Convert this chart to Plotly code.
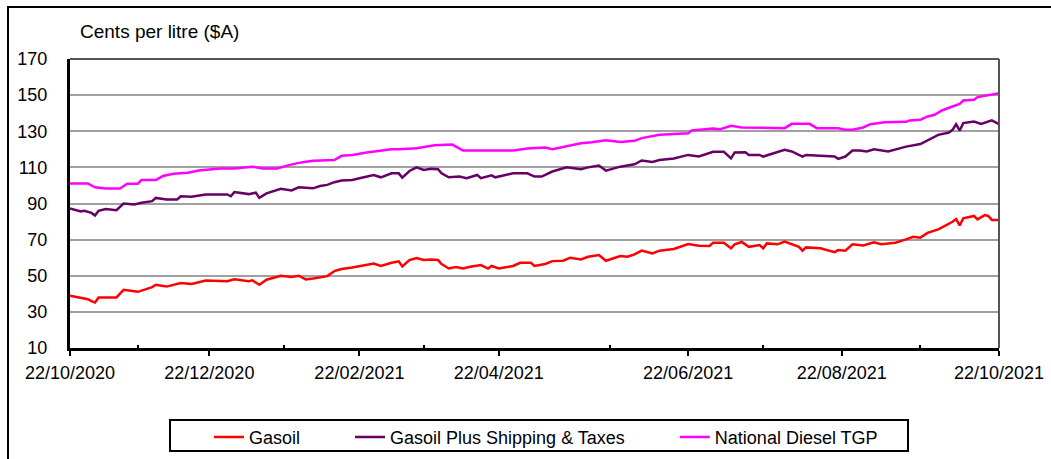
import plotly.graph_objects as go

# ---- data (x = trading-day index from 22/10/2020) ----
gasoil_day = [0,3,5,6,7,8,13,15,19,23,24,27,31,34,38,44,46,50,51,53,55,59,62,64,66,68,72,74,76,79,83,85,87,89,90,92,93,95,97,99,101,103,104,106,108,110,112,115,117,118,120,124,126,129,130,133,135,138,140,143,145,148,150,154,156,158,160,163,165,169,173,176,179,180,183,185,186,188,190,193,194,195,198,200,202,204,205,206,210,213,214,215,217,219,222,225,227,229,231,234,236,238,240,243,245,247,248,249,250,253,254,256,257,258,260]
gasoil = [38.9,37.6,37.0,36.0,35.2,38.0,38.0,42.2,41.1,43.7,45.0,44.0,46.0,45.4,47.4,47.0,48.0,47.0,47.5,45.0,47.8,50.0,49.3,50.0,48.0,48.5,49.8,52.6,53.7,54.6,55.9,56.8,55.4,56.7,57.2,58.0,55.2,58.7,59.8,58.7,59.0,58.7,56.5,54.0,54.8,54.0,55.0,55.9,54.0,55.4,54.0,55.4,57.2,57.2,55.4,56.5,58.1,58.3,60.0,59.0,60.5,61.5,58.3,60.9,60.5,61.8,63.9,62.4,63.9,64.8,67.6,66.6,66.5,68.3,68.3,65.2,67.4,68.7,66.0,67.0,65.2,67.9,67.4,68.9,67.6,66.0,63.9,65.7,65.2,63.9,63.1,64.2,63.9,67.4,66.8,68.5,67.4,67.9,68.3,70.1,71.6,71.1,73.7,75.7,77.7,79.9,81.4,77.9,81.8,83.1,81.2,83.6,83.1,80.9,80.9]

plus_day = [0,3,4,6,7,8,10,13,15,18,20,23,24,27,30,31,34,38,44,45,46,50,52,53,55,59,62,64,68,70,72,74,76,78,79,81,83,85,87,89,90,92,93,95,97,99,101,103,104,106,109,111,114,115,118,119,124,128,130,132,135,139,143,145,148,150,154,158,160,163,165,169,173,176,180,183,185,186,189,190,193,194,197,200,202,205,206,210,214,215,217,219,221,223,225,229,231,234,238,242,243,246,247,248,249,250,253,255,257,258,260]
plus = [87.2,85.6,86.0,84.8,83.3,86.0,87.0,86.3,90.0,89.4,90.4,91.3,93.1,92.2,92.2,94.0,93.7,95.0,95.0,94.0,96.3,95.2,96.0,93.1,95.6,98.1,97.2,99.0,98.4,99.7,100.3,101.8,102.7,103.0,103.0,104.0,104.9,105.8,104.5,106.2,106.7,106.7,104.3,108.0,110.0,108.6,109.2,109.0,106.7,104.5,104.9,104.0,105.8,104.0,105.6,104.5,106.7,106.7,104.9,104.9,107.7,110.0,109.0,110.0,111.0,108.2,110.4,111.7,113.8,113.0,114.1,114.9,116.9,116.0,118.6,118.6,115.0,118.2,118.4,116.9,116.9,116.0,117.8,119.7,118.8,116.0,116.9,116.5,116.0,114.7,116.0,119.3,119.3,118.8,120.0,118.8,120.0,121.5,122.9,127.1,128.0,129.3,130.8,133.9,130.4,134.5,135.4,134.1,135.4,136.0,134.0]

tgp_day = [0,5,7,10,14,16,19,20,24,26,29,33,36,40,42,46,51,54,58,61,64,68,72,74,76,79,83,87,90,92,94,97,102,107,110,116,124,128,133,135,139,143,146,150,154,158,160,165,173,174,180,182,185,188,200,202,207,209,215,217,219,222,224,228,234,235,238,240,242,244,247,249,250,253,254,257,260]
tgp = [101.1,101.1,99.0,98.3,98.3,101.0,101.0,103.0,103.0,105.2,106.5,107.0,108.3,109.3,109.4,109.4,110.4,109.4,109.4,111.1,112.5,113.6,114.1,114.1,116.4,116.9,118.2,119.1,120.0,120.0,120.3,120.6,122.3,122.6,119.3,119.3,119.3,120.4,121.0,120.0,121.5,123.4,123.9,125.0,124.1,124.7,126.2,128.0,128.9,130.4,131.5,131.1,133.0,132.1,131.7,134.1,134.1,131.7,131.7,130.8,130.8,132.1,133.9,135.0,135.2,136.0,136.3,138.2,139.1,141.5,143.7,145.2,147.0,147.4,148.9,150.2,151.1]

tick_days = [0, 39, 81, 120, 173, 216, 260]
tick_labels = ["22/10/2020", "22/12/2020", "22/02/2021", "22/04/2021",
               "22/06/2021", "22/08/2021", "22/10/2021"]
minor_days = [19, 60, 99, 151, 194, 238]
y_ticks = [10, 30, 50, 70, 90, 110, 130, 150, 170]
series_names = ["Gasoil", "Gasoil Plus Shipping & Taxes", "National Diesel TGP"]

FONT = "Liberation Sans, Arial, sans-serif"
GAP = "\u00a0" * 9

fig = go.Figure()
fig.add_trace(go.Scatter(x=gasoil_day, y=gasoil, mode="lines", name=series_names[0] + GAP,
                         line=dict(color="#FF0000", width=2.5)))
fig.add_trace(go.Scatter(x=plus_day, y=plus, mode="lines", name=series_names[1] + GAP,
                         line=dict(color="#660066", width=2.5)))
fig.add_trace(go.Scatter(x=tgp_day, y=tgp, mode="lines", name=series_names[2],
                         line=dict(color="#FF00FF", width=2.5)))

fig.update_layout(
    width=1051, height=459,
    margin=dict(l=70, r=52, t=59, b=111, autoexpand=False),
    paper_bgcolor="white", plot_bgcolor="white",
    font=dict(family=FONT, color="black", size=18),
    showlegend=True,
    legend=dict(orientation="h", x=(209 - 70) / 929, xanchor="left",
                y=-0.245, yanchor="top",
                font=dict(size=18), bgcolor="rgba(0,0,0,0)", borderwidth=0,
                traceorder="normal"),
    xaxis=dict(range=[0, 260], showgrid=False, zeroline=False, automargin=False,
               tickmode="array", tickvals=tick_days, ticktext=tick_labels,
               ticks="outside", ticklen=5, tickwidth=2, tickcolor="black",
               showline=True, linecolor="black", linewidth=3,
               ticklabelstandoff=1,
               minor=dict(tickmode="array", tickvals=minor_days, ticks="inside",
                          ticklen=3, tickwidth=2, tickcolor="black", showgrid=False)),
    xaxis2=dict(overlaying="x", range=[0, 260], showgrid=False, zeroline=False,
                tickmode="array", tickvals=tick_days, ticks="inside", ticklen=4,
                tickwidth=2, tickcolor="black", showticklabels=False,
                showline=False, side="bottom"),
    yaxis=dict(range=[10, 170], tickmode="array", tickvals=y_ticks, automargin=False,
               showgrid=True, gridcolor="#A0A0A0", gridwidth=2, zeroline=False,
               ticks="", showline=True, linecolor="black", linewidth=3,
               ticklabelstandoff=16),
    shapes=[
        dict(type="line", xref="paper", yref="paper", x0=0, x1=1, y0=1, y1=1,
             line=dict(color="#555555", width=2)),
        dict(type="line", xref="paper", yref="paper", x0=1, x1=1, y0=0, y1=1,
             line=dict(color="#555555", width=2)),
        dict(type="rect", xref="paper", yref="paper",
             x0=-62/929, x1=1.2, y0=-0.6, y1=1+(52/289),
             line=dict(color="black", width=2)),
        dict(type="rect", xref="paper", yref="paper",
             x0=(170-70)/929, x1=(908-70)/929, y0=(348-451)/289, y1=(348-420)/289,
             line=dict(color="black", width=2)),
    ],
    annotations=[
        dict(text="Cents per litre ($A)", xref="paper", yref="paper", x=0, y=1,
             xanchor="left", yanchor="middle", xshift=8, yshift=28,
             showarrow=False, font=dict(size=19, family=FONT)),
    ],
)

fig.write_html("out.html", config={"displayModeBar": False},
               post_script="document.body.style.margin='0';")
